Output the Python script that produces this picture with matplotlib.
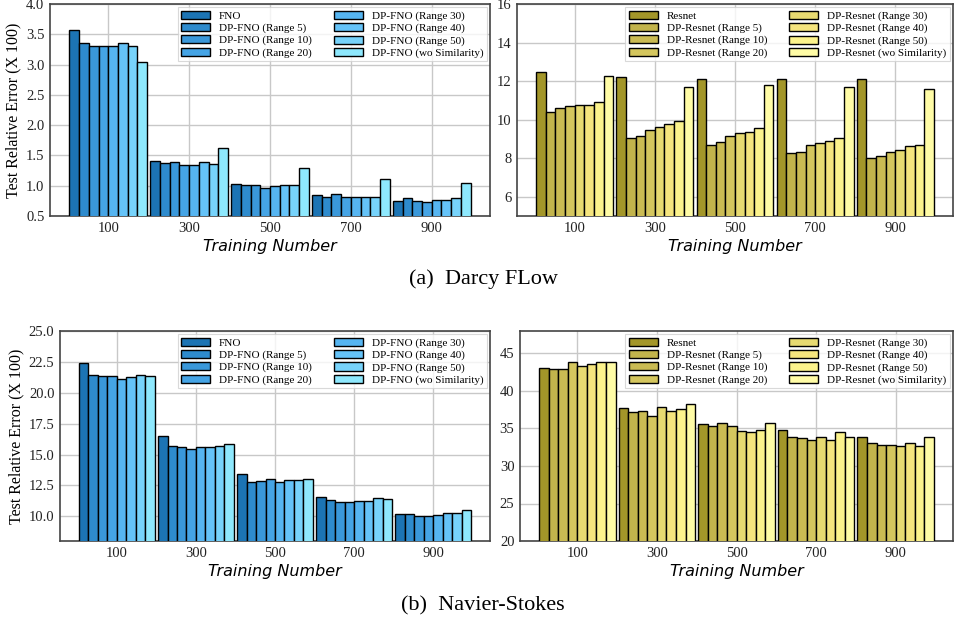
import matplotlib
matplotlib.use("Agg")
import matplotlib.pyplot as plt
import numpy as np

# training numbers (x groups)
train_num = [100, 300, 500, 700, 900]

fno_labels = ['FNO', 'DP-FNO (Range 5)', 'DP-FNO (Range 10)', 'DP-FNO (Range 20)',
              'DP-FNO (Range 30)', 'DP-FNO (Range 40)', 'DP-FNO (Range 50)',
              'DP-FNO (wo Similarity)']
res_labels = ['Resnet', 'DP-Resnet (Range 5)', 'DP-Resnet (Range 10)', 'DP-Resnet (Range 20)',
              'DP-Resnet (Range 30)', 'DP-Resnet (Range 40)', 'DP-Resnet (Range 50)',
              'DP-Resnet (wo Similarity)']

fno_colors = ['#1c74b4', '#2e8bcd', '#3a98da', '#45a4e5', '#56b5f1', '#65c3f8', '#77d3fb', '#8ee8fd']
res_colors = ['#a39629', '#c2b44c', '#cabb53', '#d4c65e', '#e7da71', '#f5e57e', '#fcf38c', '#fffca6']

# Darcy flow, rows = method, cols = training number
darcy_fno = [
    [3.57, 1.40, 1.03, 0.84, 0.74],
    [3.35, 1.37, 1.02, 0.82, 0.79],
    [3.30, 1.39, 1.01, 0.86, 0.75],
    [3.31, 1.35, 0.97, 0.81, 0.73],
    [3.31, 1.34, 1.00, 0.81, 0.77],
    [3.36, 1.39, 1.01, 0.81, 0.76],
    [3.30, 1.36, 1.02, 0.82, 0.79],
    [3.04, 1.62, 1.29, 1.11, 1.05],
]
darcy_res = [
    [12.46, 12.20, 12.13, 12.13, 12.13],
    [10.39, 9.06, 8.68, 8.25, 8.00],
    [10.59, 9.16, 8.82, 8.31, 8.12],
    [10.70, 9.44, 9.13, 8.66, 8.33],
    [10.77, 9.61, 9.30, 8.78, 8.40],
    [10.77, 9.77, 9.35, 8.90, 8.61],
    [10.91, 9.91, 9.59, 9.04, 8.69],
    [12.27, 11.68, 11.79, 11.68, 11.58],
]
# Navier-Stokes
ns_fno = [
    [22.44, 16.53, 13.40, 11.60, 10.19],
    [21.44, 15.72, 12.81, 11.33, 10.22],
    [21.33, 15.61, 12.84, 11.19, 10.05],
    [21.36, 15.48, 13.05, 11.19, 10.05],
    [21.14, 15.59, 12.78, 11.22, 10.08],
    [21.25, 15.61, 12.94, 11.27, 10.27],
    [21.41, 15.67, 12.94, 11.52, 10.29],
    [21.39, 15.83, 13.00, 11.43, 10.54],
]
ns_res = [
    [43.00, 37.67, 35.59, 34.74, 33.81],
    [42.87, 37.14, 35.32, 33.90, 33.01],
    [42.96, 37.32, 35.76, 33.68, 32.79],
    [43.85, 36.70, 35.32, 33.50, 32.79],
    [43.36, 37.81, 34.70, 33.81, 32.70],
    [43.62, 37.36, 34.52, 33.50, 33.05],
    [43.89, 37.54, 34.78, 34.52, 32.66],
    [43.89, 38.21, 35.72, 33.81, 33.85],
]

serif = 'Liberation Serif'
plt.rcParams['font.family'] = serif

fig = plt.figure(figsize=(9.55, 6.26), dpi=100)
W, H = 955.0, 626.0


def make_ax(l, r, t, b):
    return fig.add_axes([l / W, 1 - b / H, (r - l) / W, (b - t) / H])


def draw(ax, data, labels, colors, ylim, yticks, ylabel=False):
    bw = 24
    for j in range(len(data)):
        xs = [200 * i + 4 + bw * j for i in range(len(train_num))]
        ax.bar(xs, data[j], width=bw, align='edge', color=colors[j],
               edgecolor='black', linewidth=1.0, label=labels[j], zorder=3)
    ax.set_xlim(-44, 1044)
    ax.set_ylim(*ylim)
    ax.set_yticks(yticks)
    ax.set_xticks([100 + 200 * i for i in range(len(train_num))])
    ax.set_xticklabels([str(t) for t in train_num])
    ax.grid(True, color='#c8c8c8', linewidth=1.0, zorder=0)
    ax.set_axisbelow(True)
    ax.tick_params(length=0, labelsize=10.5, pad=4, colors='#222222')
    for s in ax.spines.values():
        s.set_color('#444444')
        s.set_linewidth(1.2)
    ax.set_xlabel('Training Number', family='DejaVu Sans', style='italic',
                  fontsize=11.5, labelpad=3)
    if ylabel:
        ax.set_ylabel('Test Relative Error (X 100)', fontsize=11.5, labelpad=3)
    leg = ax.legend(ncol=2, loc='upper right', fontsize=8, frameon=True,
                    borderaxespad=0.3, handlelength=2.6, handleheight=0.75,
                    columnspacing=2.0, labelspacing=0.2, borderpad=0.3,
                    fancybox=False)
    leg.get_frame().set_edgecolor('#d0d0d0')
    leg.get_frame().set_linewidth(0.8)


ax1 = make_ax(50, 490, 4, 216)
draw(ax1, darcy_fno, fno_labels, fno_colors, (0.5, 4.0), np.arange(0.5, 4.01, 0.5), ylabel=True)
ax1.yaxis.set_major_formatter(matplotlib.ticker.FormatStrFormatter('%.1f'))

ax2 = make_ax(517, 953, 4, 216)
draw(ax2, darcy_res, res_labels, res_colors, (5, 16), [6, 8, 10, 12, 14, 16])

ax3 = make_ax(60, 490, 331, 541)
draw(ax3, ns_fno, fno_labels, fno_colors, (8, 25), np.arange(10, 25.01, 2.5), ylabel=True)
ax3.yaxis.set_major_formatter(matplotlib.ticker.FormatStrFormatter('%.1f'))

ax4 = make_ax(520, 953, 331, 541)
draw(ax4, ns_res, res_labels, res_colors, (20, 48), [20, 25, 30, 35, 40, 45])

fig.text(483 / W, 1 - 279 / H, '(a)  Darcy FLow', ha='center', va='center', fontsize=16)
fig.text(483 / W, 1 - 606 / H, '(b)  Navier-Stokes', ha='center', va='center', fontsize=16)

fig.savefig('out.png', dpi=100)
